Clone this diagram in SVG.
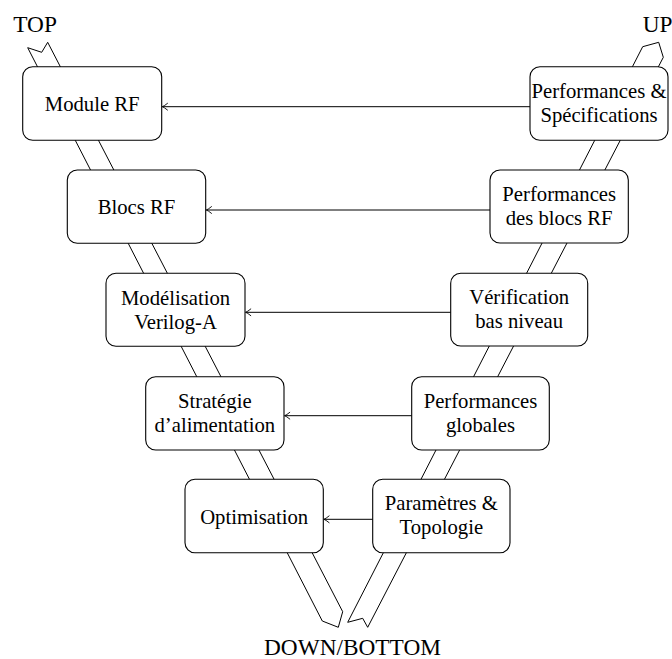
<svg xmlns="http://www.w3.org/2000/svg" width="672" height="659" viewBox="0 0 672 659">
<style>
  .band { fill: #fff; stroke: #000; stroke-width: 1; stroke-linejoin: miter; }
  .box { fill: #fff; stroke: #000; stroke-width: 1.1; }
  .conn { stroke: #000; stroke-width: 1; fill: none; marker-end: url(#arr); }
</style>
<defs>
  <marker id="arr" viewBox="-8 -5 10 10" markerWidth="10" markerHeight="10" refX="0" refY="0" orient="auto" markerUnits="userSpaceOnUse">
    <path d="M-5.5,-3.6 Q-1.8,-0.6 0,0 Q-1.8,0.6 -5.5,3.6" fill="none" stroke="#000" stroke-width="0.9"/>
  </marker>
</defs>

<g id="bands">
  <polygon id="band-down" class="band" points="27.7,47.7 41.7,52.3 47.7,42.3 342.7,611.7 338.3,627.3 322.3,621"/>
  <polygon id="band-up" class="band" points="347.7,622.3 362.7,618.3 367.7,627.3 663.3,57.3 658.7,42.3 642.7,46.7"/>
</g>

<g font-family="'Liberation Serif', 'Times New Roman', serif" font-size="20.7" text-anchor="middle" fill="#000">
<g id="n-module">
  <rect class="box" x="22.7" y="66.7" width="139" height="73.5" rx="10"/>
  <text x="92.2" y="111.4">Module RF</text>
</g>
<g id="n-blocs">
  <rect class="box" x="67.3" y="170" width="138.4" height="73.3" rx="10"/>
  <text x="136.5" y="214.2">Blocs RF</text>
</g>
<g id="n-modelisation">
  <rect class="box" x="106" y="273.3" width="139" height="73" rx="10"/>
  <text x="175.5" y="304.5">Modélisation</text>
  <text x="175.5" y="328.5">Verilog-A</text>
</g>
<g id="n-strategie">
  <rect class="box" x="145.7" y="376.7" width="138.3" height="73.3" rx="10"/>
  <text x="214.8" y="407.5">Stratégie</text>
  <text x="214.8" y="431.5">d’alimentation</text>
</g>
<g id="n-optimisation">
  <rect class="box" x="185" y="479.3" width="138.3" height="73.4" rx="10"/>
  <text x="254.2" y="523.5">Optimisation</text>
</g>

<g id="n-perfspec">
  <rect class="box" x="530" y="66.7" width="138" height="73.5" rx="10"/>
  <text x="599" y="97.5">Performances &amp;</text>
  <text x="599" y="121.5">Spécifications</text>
</g>
<g id="n-perfblocs">
  <rect class="box" x="490" y="170" width="138.3" height="73" rx="10"/>
  <text x="559.2" y="200.5">Performances</text>
  <text x="559.2" y="224.5">des blocs RF</text>
</g>
<g id="n-verif">
  <rect class="box" x="450.7" y="273.3" width="137" height="72.7" rx="10"/>
  <text x="519.2" y="303.8">Vérification</text>
  <text x="519.2" y="327.8">bas niveau</text>
</g>
<g id="n-perfglob">
  <rect class="box" x="411.7" y="376.7" width="137.6" height="73.3" rx="10"/>
  <text x="480.5" y="407.5">Performances</text>
  <text x="480.5" y="431.5">globales</text>
</g>
<g id="n-param">
  <rect class="box" x="372.7" y="479.3" width="137.3" height="73.4" rx="10"/>
  <text x="441.3" y="510">Paramètres &amp;</text>
  <text x="441.3" y="534">Topologie</text>
</g>
</g>

<g id="connectors">
  <path class="conn" d="M530,106.7 H162.3"/>
  <path class="conn" d="M490,210 H206.3"/>
  <path class="conn" d="M450.7,312.3 H245.6"/>
  <path class="conn" d="M411.7,415.7 H284.6"/>
  <path class="conn" d="M372.7,519.3 H323.9"/>
</g>

<g id="labels" font-family="'Liberation Serif', 'Times New Roman', serif" font-size="23.3" fill="#000">
  <text x="13.3" y="32.3">TOP</text>
  <text x="642.7" y="31.7">UP</text>
  <text x="352.5" y="655" text-anchor="middle">DOWN/BOTTOM</text>
</g>
</svg>
